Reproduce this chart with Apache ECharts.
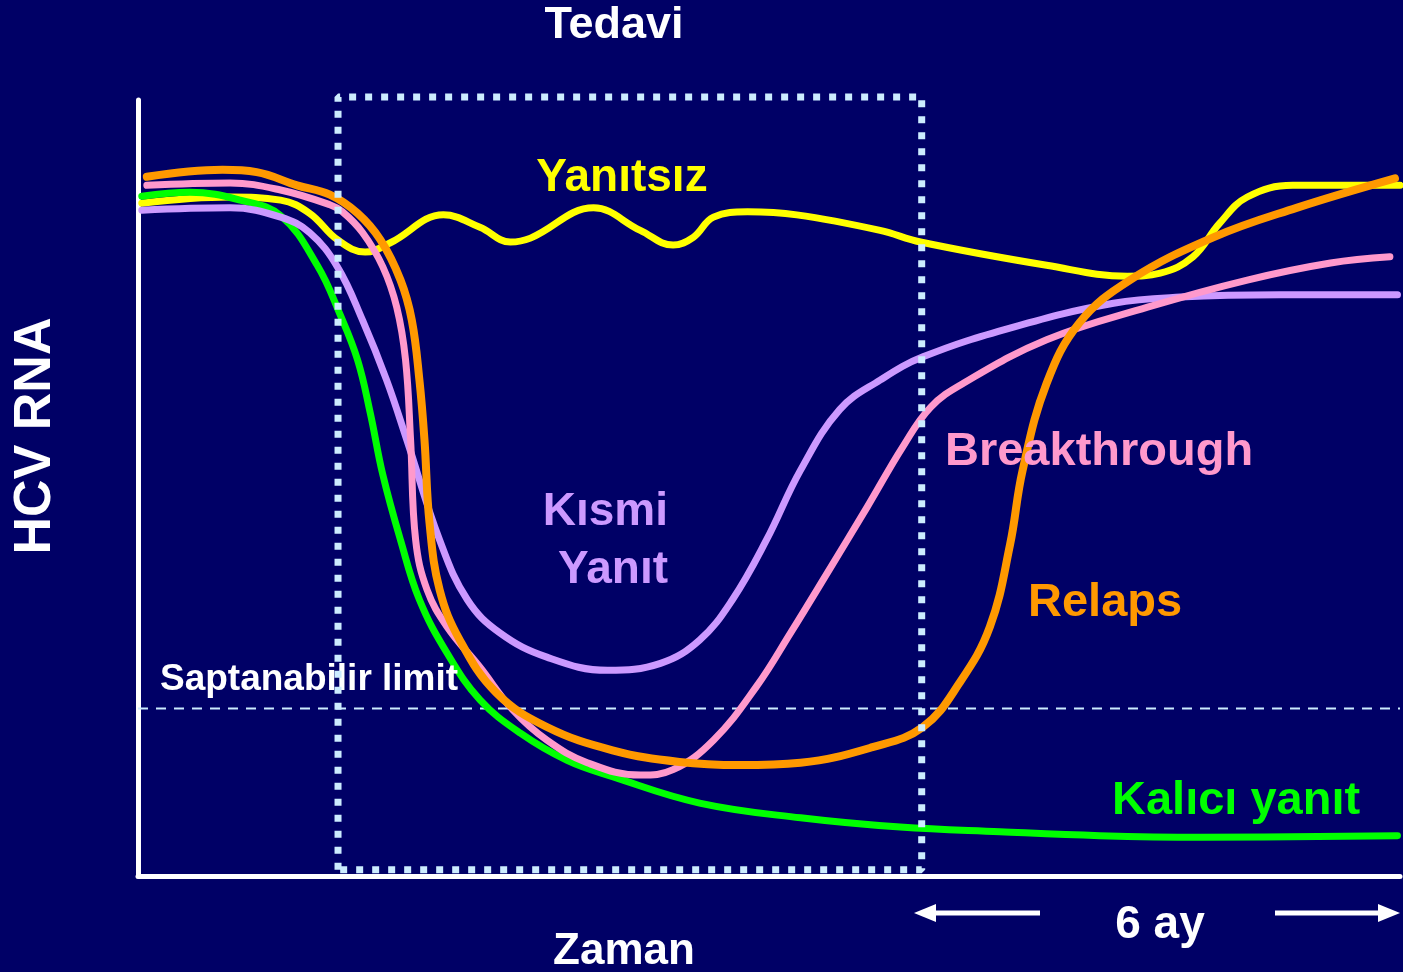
<!DOCTYPE html>
<html>
<head>
<meta charset="utf-8">
<title>HCV RNA</title>
<script src="https://cdn.jsdelivr.net/npm/echarts@6/dist/echarts.min.js"></script>
<style>
  html, body { margin: 0; padding: 0; background: #000066; }
  #chart { width: 1403px; height: 972px; }
</style>
</head>
<body>
<div id="chart"></div>
<script>
// zaman (0-100) / HCV RNA düzeyi (0-100)
var kaliciYanit = [[0.3,87.6],[4.1,88.1],[8.1,87.1],[11.3,85.1],[14.2,78.7],[16.0,72.4],[17.4,66.5],[18.4,59.7],[19.4,51.7],[20.8,43.3],[22.3,35.6],[24.5,28.7],[27.1,22.7],[30.3,18.4],[34.0,14.9],[37.6,12.8],[44.5,9.4],[52.5,7.5],[60.4,6.3],[68.3,5.7],[76.2,5.2],[84.2,5.0],[99.8,5.2]];
var kismiYanit = [[0.3,85.8],[7.3,86.1],[11.3,84.9],[13.6,82.9],[15.8,78.5],[17.8,71.6],[19.7,63.9],[21.3,56.2],[23.9,43.3],[26.1,35.6],[28.7,31.3],[32.4,28.2],[37.2,26.5],[41.4,27.4],[44.5,30.4],[47.1,35.6],[49.8,43.3],[52.5,52.3],[55.6,60.1],[58.8,63.9],[62.2,66.9],[69.3,70.7],[77.3,73.8],[82.6,74.6],[90.5,74.9],[99.8,74.9]];
var yanitsiz = [[0.3,86.7],[7.3,87.5],[11.3,87.1],[13.6,85.4],[15.8,82.0],[18.0,80.4],[20.0,81.6],[24.2,85.2],[27.1,83.6],[29.5,81.7],[31.1,82.2],[36.1,86.1],[39.8,83.2],[42.4,81.3],[44.0,82.3],[45.6,84.9],[48.3,85.6],[52.2,85.2],[58.8,83.2],[62.0,81.7],[72.0,78.7],[78.4,77.3],[81.0,77.7],[83.6,79.8],[85.7,84.1],[87.9,87.5],[91.5,89.0],[100,89.0]];
var breakthrough = [[0.7,89.0],[7.3,89.3],[11.3,88.4],[15.2,86.5],[16.2,85.6],[17.8,82.9],[19.4,78.5],[20.5,73.3],[21.2,66.5],[21.6,56.2],[22.0,43.3],[22.9,36.9],[24.5,32.1],[27.1,26.9],[29.7,21.4],[32.4,17.5],[35.6,14.6],[39.8,13.0],[42.4,13.7],[45.6,17.5],[49.0,24.4],[51.7,31.3],[54.6,39.0],[57.8,47.6],[60.6,55.3],[62.8,60.4],[65.4,63.5],[72.0,69.1],[80.0,73.3],[87.9,76.8],[94.5,79.0],[99.2,79.8]];
var relaps = [[0.7,90.1],[6.7,91.0],[9.4,90.7],[12.6,89.0],[15.2,87.8],[17.4,85.4],[19.2,82.0],[20.8,76.8],[21.7,71.6],[22.3,63.9],[22.7,56.2],[23.1,45.5],[23.9,36.9],[25.5,30.4],[28.4,23.6],[32.4,19.2],[37.6,16.2],[42.9,14.7],[47.7,14.3],[52.5,14.6],[58.2,16.6],[62.2,19.2],[65.1,24.9],[67.5,32.1],[69.1,42.7],[70.1,52.3],[72.0,63.5],[74.6,71.3],[78.6,76.8],[85.2,82.3],[91.8,86.1],[99.6,89.9]];
var tedaviBasSon = [15.85, 62.1];
var tedaviAltUst = [0.8, 100.4];
var saptanabilirLimit = 21.6;

var pencere = [
  [tedaviBasSon[0], tedaviAltUst[0]], [tedaviBasSon[0], tedaviAltUst[1]],
  [tedaviBasSon[1], tedaviAltUst[1]], [tedaviBasSon[1], tedaviAltUst[0]],
  [tedaviBasSon[0], tedaviAltUst[0]]
];

var FONT = '"Liberation Sans", Arial, sans-serif';

function egri(name, data, color, width) {
  return {
    name: name, type: 'line', data: data, smooth: 0.4,
    showSymbol: false, silent: true, clip: false,
    lineStyle: { color: color, width: width, cap: 'round', join: 'round' }
  };
}

function yazi(text, x, y, size, color, align) {
  return {
    type: 'text', x: x, y: y, z: 20,
    style: {
      text: text, fill: color, font: 'bold ' + size + 'px ' + FONT,
      textAlign: align || 'center', textVerticalAlign: 'middle'
    }
  };
}

var myChart = echarts.init(document.getElementById('chart'));
var option = {
  backgroundColor: '#000066',
  animation: false,
  grid: { left: 138, right: 3, top: 100, bottom: 96 },
  xAxis: {
    type: 'value', min: 0, max: 100,
    axisLine: { show: true, lineStyle: { color: '#ffffff', width: 5 } },
    axisTick: { show: false }, axisLabel: { show: false }, splitLine: { show: false }
  },
  yAxis: {
    type: 'value', min: 0, max: 100,
    axisLine: { show: true, lineStyle: { color: '#ffffff', width: 5 } },
    axisTick: { show: false }, axisLabel: { show: false }, splitLine: { show: false }
  },
  series: [
    {
      type: 'line', silent: true, showSymbol: false,
      data: [[0, saptanabilirLimit], [100, saptanabilirLimit]],
      lineStyle: { color: '#ccecff', width: 2, type: [10, 8] }
    },
    egri('Yanıtsız', yanitsiz, '#ffff00', 7),
    egri('Kalıcı yanıt', kaliciYanit, '#00ff00', 7),
    egri('Kısmi Yanıt', kismiYanit, '#cc99ff', 7),
    egri('Breakthrough', breakthrough, '#ff99cc', 7),
    egri('Relaps', relaps, '#ff9900', 8),
    {
      type: 'line', silent: true, showSymbol: false, clip: false, z: 10,
      data: pencere,
      lineStyle: { color: '#ccecff', width: 7, type: [7, 9], cap: 'butt' }
    }
  ],
  graphic: [
    yazi('Tedavi', 614, 26, 45, '#ffffff'),
    {
      type: 'text', x: 36, y: 436, rotation: Math.PI / 2, z: 20,
      style: {
        text: 'HCV RNA', fill: '#ffffff', font: 'bold 52px ' + FONT,
        textAlign: 'center', textVerticalAlign: 'middle'
      }
    },
    yazi('Yanıtsız', 622, 178, 46, '#ffff00'),
    yazi('Kısmi', 668, 512, 46, '#cc99ff', 'right'),
    yazi('Yanıt', 668, 570, 46, '#cc99ff', 'right'),
    yazi('Breakthrough', 945, 452, 47, '#ff99cc', 'left'),
    yazi('Relaps', 1028, 603, 47, '#ff9900', 'left'),
    yazi('Kalıcı yanıt', 1112, 801, 47, '#00ff00', 'left'),
    { type: 'text', x: 160, y: 680, z: 5,
      style: { text: 'Saptanabilir limit', fill: '#ffffff', font: 'bold 37px ' + FONT,
               textAlign: 'left', textVerticalAlign: 'middle' } },
    yazi('6 ay', 1160, 925, 46, '#ffffff'),
    yazi('Zaman', 624, 952, 44, '#ffffff'),
    { type: 'line', shape: { x1: 930, y1: 913, x2: 1040, y2: 913 }, style: { stroke: '#ffffff', lineWidth: 5 } },
    { type: 'polygon', shape: { points: [[914, 913], [936, 904], [936, 922]] }, style: { fill: '#ffffff' } },
    { type: 'line', shape: { x1: 1275, y1: 913, x2: 1385, y2: 913 }, style: { stroke: '#ffffff', lineWidth: 5 } },
    { type: 'polygon', shape: { points: [[1400, 913], [1378, 904], [1378, 922]] }, style: { fill: '#ffffff' } }
  ]
};
myChart.setOption(option);
window.onresize = myChart.resize;
</script>
</body>
</html>
